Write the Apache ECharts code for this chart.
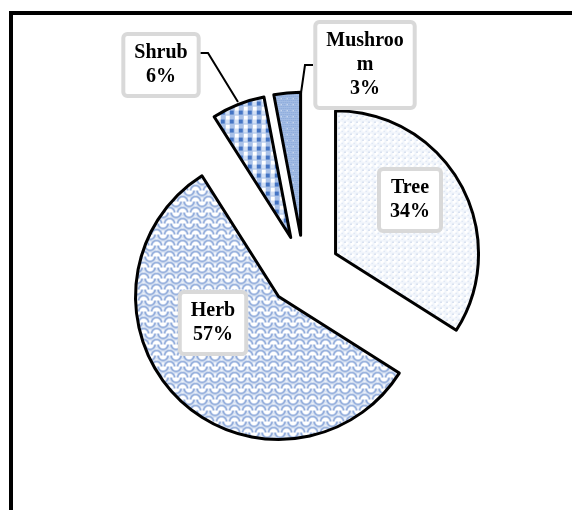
<!DOCTYPE html>
<html>
<head>
<meta charset="utf-8">
<script src="https://cdn.jsdelivr.net/npm/echarts@6/dist/echarts.min.js"></script>
<style>
  html, body { margin: 0; padding: 0; background: #fff; }
  #chart { width: 572px; height: 510px; }
</style>
</head>
<body>
<div id="chart"></div>
<script>
// data
const categories = ["Tree", "Herb", "Shrub", "Mushroom"];
const shares = [34, 57, 6, 3];

// small canvas tiles to mimic the Excel fill patterns
function tile(w, h, draw) {
  const c = document.createElement("canvas");
  c.width = w;
  c.height = h;
  const ctx = c.getContext("2d");
  ctx.fillStyle = "#fff";
  ctx.fillRect(0, 0, w, h);
  draw(ctx);
  return { image: c, repeat: "repeat" };
}

const treeFill = tile(6, 6, (ctx) => {
  ctx.fillStyle = "#f1f5fb";
  ctx.fillRect(0, 0, 6, 6);
  ctx.fillStyle = "#fff";
  ctx.fillRect(1, 1, 4, 4);
  ctx.fillStyle = "#9db4da";
  ctx.fillRect(1, 1, 1, 1);
  ctx.fillStyle = "#c6d4ec";
  ctx.fillRect(4, 4, 1, 1);
});

const herbFill = tile(13, 11, (ctx) => {
  ctx.strokeStyle = "#7496d2";
  ctx.lineWidth = 1.6;
  ctx.beginPath();
  ctx.arc(6.5, 0, 5, 0, Math.PI);
  ctx.stroke();
  ctx.beginPath();
  ctx.arc(0, 11, 5, Math.PI, Math.PI * 2);
  ctx.stroke();
  ctx.beginPath();
  ctx.arc(13, 11, 5, Math.PI, Math.PI * 2);
  ctx.stroke();
  ctx.strokeStyle = "#c8d7ef";
  ctx.lineWidth = 1;
  ctx.beginPath();
  ctx.arc(6.5, 0, 6.8, 0, Math.PI);
  ctx.stroke();
});

const shrubFill = tile(9, 9, (ctx) => {
  ctx.fillStyle = "#a9c1e8";
  ctx.fillRect(0, 0, 9, 9);
  ctx.fillStyle = "#4575c4";
  ctx.fillRect(0, 0, 4, 4);
  ctx.fillStyle = "#fff";
  ctx.fillRect(5, 5, 4, 4);
  ctx.fillStyle = "#d3e0f4";
  ctx.fillRect(5, 0, 4, 4);
});

const mushFill = tile(6, 6, (ctx) => {
  ctx.fillStyle = "#a6bfe6";
  ctx.fillRect(0, 0, 6, 6);
  ctx.fillStyle = "#7d9fd6";
  for (let i = 0; i < 6; i += 2) {
    for (let j = 0; j < 6; j += 2) ctx.fillRect(i + (j % 4 ? 1 : 0), j, 1, 1);
  }
  ctx.fillStyle = "#fff";
  ctx.fillRect(2, 2, 1, 1);
});

const fills = [treeFill, herbFill, shrubFill, mushFill];

let myChart = echarts.init(document.getElementById("chart"));

let seriesData = categories.map((name, i) => ({
  name: name,
  value: shares[i],
  selected: true,
  itemStyle: { color: fills[i] },
}));

// label boxes (centre points) and leader lines
const labelSpots = [
  [410, 200],
  [213, 323],
  [161, 65],
  [365, 65],
];
const leaderLines = [
  null,
  null,
  [[238, 102], [208, 53], [200, 53]],
  [[301, 93], [305, 65], [313, 65]],
];

let total = shares.reduce((a, b) => a + b, 0);
let labelGraphics = [];
categories.forEach((name, i) => {
  let n = name.length > 7 ? name.slice(0, 7) + "\n" + name.slice(7) : name;
  let pct = Math.round((shares[i] / total) * 100);
  if (leaderLines[i]) {
    labelGraphics.push({
      type: "polyline",
      shape: { points: leaderLines[i] },
      style: { stroke: "#000", lineWidth: 2, fill: null },
      z: 10,
    });
  }
  labelGraphics.push({
    type: "text",
    x: labelSpots[i][0],
    y: labelSpots[i][1],
    z: 11,
    style: {
      text: n + "\n" + pct + "%",
      fontFamily: "Liberation Serif",
      fontWeight: "bold",
      fontSize: 20,
      lineHeight: 24,
      fill: "#000",
      align: "center",
      verticalAlign: "middle",
      backgroundColor: "#fff",
      borderColor: "#d9d9d9",
      borderWidth: 4,
      borderRadius: 2,
      padding: [5, 9, 5, 9],
    },
  });
});

let option = {
  animation: false,
  graphic: [
    {
      type: "line",
      shape: { x1: 9, y1: 13, x2: 572, y2: 13 },
      style: { stroke: "#000", lineWidth: 4 },
    },
    {
      type: "line",
      shape: { x1: 11, y1: 11, x2: 11, y2: 510 },
      style: { stroke: "#000", lineWidth: 4 },
    },
  ].concat(labelGraphics),
  series: [
    {
      type: "pie",
      center: [304, 271],
      radius: 143,
      startAngle: 90,
      clockwise: true,
      selectedMode: "multiple",
      selectedOffset: 36,
      emphasis: { disabled: true },
      itemStyle: {
        borderColor: "#000",
        borderWidth: 3,
      },
      label: { show: false },
      labelLine: { show: false },
      data: seriesData,
    },
  ],
};
myChart.setOption(option);
</script>
</body>
</html>
